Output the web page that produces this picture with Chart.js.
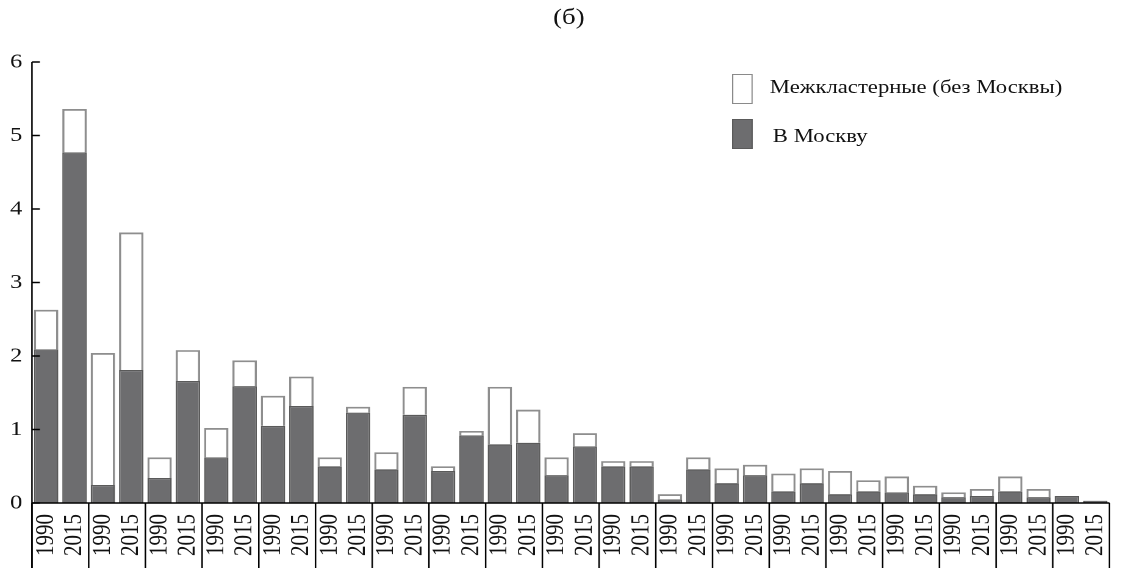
<!DOCTYPE html>
<html>
<head>
<meta charset="utf-8">
<script src="https://cdn.jsdelivr.net/npm/chart.js@4.4.1/dist/chart.umd.min.js"></script>
<style>
  html, body { margin: 0; padding: 0; background: #fff; overflow: hidden; width: 1128px; height: 568px; }
  #wrap { position: relative; width: 934px; height: 568px; transform: scaleX(1.22); transform-origin: 0 0; }
  #c { width: 934px; height: 568px; display: block; }
  #legend { position: absolute; left: 600px; top: 74px; font-family: "Liberation Serif", "Times New Roman", serif; font-size: 18.6px; color: #111; }
  .item { position: relative; height: 30px; margin-bottom: 15px; }
  .box { position: absolute; left: 0; top: 0; width: 15px; height: 28px; border: 1.3px solid #8a8a8a; box-sizing: content-box; }
  .lbl { position: absolute; white-space: nowrap; }
</style>
</head>
<body>
<div id="wrap">
  <canvas id="c" width="934" height="568"></canvas>
  <div id="legend"></div>
</div>
<script>
// ---- data ----
const years = ["1990", "2015"];
const categories = [];
for (let i = 0; i < 19; i++) { categories.push(years[0]); categories.push(years[1]); }

const seriesNames = ["Межкластерные (без Москвы)", "В Москву"];
// total flow (top of each bar)
const totalValues = [2.63, 5.36, 2.04, 3.68, 0.62, 2.08, 1.02, 1.94, 1.46, 1.72,
                     0.62, 1.31, 0.69, 1.58, 0.50, 0.98, 1.58, 1.27, 0.62, 0.95,
                     0.57, 0.57, 0.12, 0.62, 0.47, 0.52, 0.40, 0.47, 0.435, 0.31,
                     0.36, 0.235, 0.145, 0.19, 0.36, 0.19, 0.095, 0.03];
// flow to Moscow (dark part)
const moscowValues = [2.09, 4.77, 0.245, 1.81, 0.34, 1.66, 0.62, 1.59, 1.05, 1.32,
                      0.50, 1.23, 0.46, 1.20, 0.435, 0.92, 0.80, 0.82, 0.38, 0.77,
                      0.50, 0.50, 0.05, 0.46, 0.27, 0.38, 0.16, 0.27, 0.12, 0.16,
                      0.145, 0.12, 0.08, 0.095, 0.16, 0.08, 0.095, 0.03];
const interValues = totalValues.map((t, i) => Math.max(0, +(t - moscowValues[i]).toFixed(3)));
const yTicks = [0, 1, 2, 3, 4, 5, 6];
const titleText = "(б)";

const darkFill = "#6d6d6f";
const darkBorder = "#5a5a5a";
const lightFill = "#ffffff";
const lightBorder = "#8e8e8e";
const serif = "'Liberation Serif', 'Times New Roman', serif";

// legend (HTML, real text)
const legendEl = document.getElementById('legend');
[[seriesNames[0], lightFill, 31, 2], [seriesNames[1], darkFill, 33.5, 6]].forEach(([name, fill, tx, ty]) => {
  const it = document.createElement('div'); it.className = 'item';
  const b = document.createElement('div'); b.className = 'box'; b.style.background = fill;
  if (fill === darkFill) b.style.borderColor = darkBorder;
  const l = document.createElement('div'); l.className = 'lbl'; l.style.left = tx + 'px'; l.style.top = ty + 'px'; l.textContent = name;
  it.appendChild(b); it.appendChild(l); legendEl.appendChild(it);
});

const decor = {
  id: 'decor',
  afterDraw(chart) {
    const ctx = chart.ctx, x = chart.scales.x, y = chart.scales.y, a = chart.chartArea;
    ctx.save();
    ctx.strokeStyle = '#000';
    // pair separators below the axis
    ctx.lineWidth = 1.25;
    const half = (x.getPixelForValue(1) - x.getPixelForValue(0)) / 2;
    for (let i = 0; i <= categories.length; i += 2) {
      const px = i < categories.length ? x.getPixelForValue(i) - half : x.getPixelForValue(i - 1) + half;
      ctx.beginPath(); ctx.moveTo(px, a.bottom); ctx.lineTo(px, chart.height); ctx.stroke();
    }
    // y axis line & inward ticks
    ctx.beginPath(); ctx.moveTo(a.left, a.top); ctx.lineTo(a.left, chart.height); ctx.stroke();
    ctx.lineWidth = 1.5;
    yTicks.forEach(v => {
      const py = y.getPixelForValue(v);
      ctx.beginPath(); ctx.moveTo(a.left, py); ctx.lineTo(a.left + 6.5, py); ctx.stroke();
    });
    // x axis line
    ctx.lineWidth = 1.6;
    ctx.beginPath(); ctx.moveTo(a.left, a.bottom); ctx.lineTo(a.right, a.bottom); ctx.stroke();
    ctx.restore();
  }
};

new Chart(document.getElementById('c'), {
  type: 'bar',
  data: {
    labels: categories,
    datasets: [
      { label: seriesNames[1], data: moscowValues, backgroundColor: darkFill, borderColor: darkBorder, borderWidth: 1.3, barPercentage: 0.86, categoryPercentage: 1.0, order: 1 },
      { label: seriesNames[0], data: interValues, backgroundColor: lightFill, borderColor: lightBorder, borderWidth: 1.8, barPercentage: 0.86, categoryPercentage: 1.0, order: 2 }
    ]
  },
  options: {
    responsive: false,
    animation: false,
    devicePixelRatio: 2,
    layout: { padding: { left: 0, right: 1.5, top: 0, bottom: 0 } },
    plugins: {
      legend: { display: false },
      tooltip: { enabled: false },
      title: { display: true, text: titleText, color: '#111', font: { family: serif, size: 22, weight: 'normal' }, padding: { top: 5, bottom: 30.6 } }
    },
    scales: {
      x: {
        stacked: true,
        grid: { display: false, drawTicks: false },
        border: { display: false },
        ticks: { color: '#111', font: { family: serif, size: 21 }, minRotation: 90, maxRotation: 90, padding: 11, autoSkip: false },
        afterFit: (s) => { s.height = 65; }
      },
      y: {
        stacked: true,
        min: 0, max: 6,
        afterBuildTicks: (s) => { s.ticks = yTicks.map(v => ({ value: v })); },
        grid: { display: false, drawTicks: false },
        border: { display: false },
        ticks: { color: '#111', font: { family: serif, size: 20 }, padding: 8 },
        afterFit: (s) => { s.width = 26.2; }
      }
    }
  },
  plugins: [decor]
});
</script>
</body>
</html>
